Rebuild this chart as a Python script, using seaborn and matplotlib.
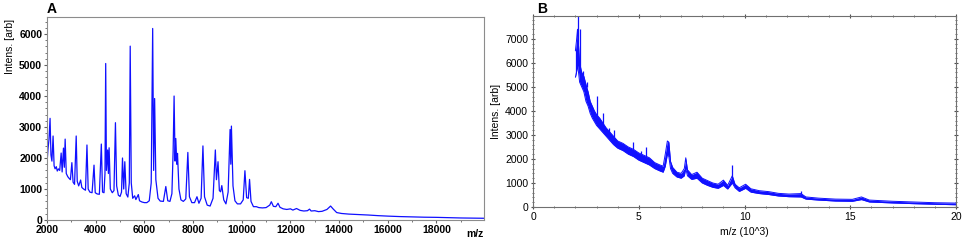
import numpy as np
import pandas as pd
import matplotlib
matplotlib.use("Agg")
from matplotlib import pyplot as plt
from matplotlib.ticker import MultipleLocator
import seaborn as sns

sns.set_style("white")
plt.rcParams['font.family'] = ['Liberation Sans', 'DejaVu Sans']
plt.rcParams['text.color'] = 'black'
plt.rcParams['axes.labelcolor'] = 'black'
plt.rcParams['xtick.color'] = 'black'
plt.rcParams['ytick.color'] = 'black'

# panel A spectrum, vertices (m/z, intensity)
mz_a = [2000, 2040, 2080, 2124, 2160, 2200, 2248, 2290, 2330, 2380, 2420, 2470, 2520, 2580,
        2620, 2675, 2710, 2744, 2790, 2850, 2900, 2960, 3020, 3070, 3130, 3198, 3240, 3300,
        3380, 3430, 3500, 3580, 3640, 3690, 3760, 3850, 3930, 3980, 4060, 4150, 4230, 4280,
        4340, 4380, 4410, 4440, 4490, 4520, 4550, 4600, 4680, 4750, 4810, 4860, 4930, 5000,
        5060, 5100, 5150, 5195, 5250, 5320, 5380, 5417, 5460, 5520, 5600, 5650, 5750, 5800,
        5900, 6000, 6100, 6200, 6280, 6340, 6380, 6420, 6470, 6560, 6650, 6780, 6880, 6960,
        7050, 7130, 7180, 7220, 7260, 7290, 7330, 7360, 7420, 7500, 7600, 7700, 7785, 7850,
        7950, 8060, 8160, 8240, 8330, 8405, 8470, 8580, 8700, 8820, 8915, 8960, 9025, 9080,
        9130, 9180, 9260, 9350, 9440, 9520, 9550, 9575, 9640, 9720, 9820, 9950, 10060, 10130,
        10200, 10270, 10320, 10380, 10480, 10600, 10700, 10850, 11000, 11150, 11215, 11300,
        11400, 11490, 11570, 11700, 11850, 12000, 12100, 12250, 12400, 12550, 12700, 12785,
        12850, 13000, 13150, 13300, 13500, 13650, 13750, 13900, 14100, 14400, 14800, 15200,
        15600, 16000, 16500, 17000, 17500, 18000, 18500, 19000, 19500, 20000]
int_a = [1850, 2300, 2600, 3280, 2100, 1900, 2710, 1750, 1650, 1720, 1580, 1650, 1600, 2160,
         1550, 2320, 1700, 2610, 1500, 1400, 1350, 1300, 1850, 1220, 1150, 2710, 1250, 1100,
         1290, 1050, 1000, 960, 2420, 1000, 900, 880, 1770, 880, 840, 830, 2450, 900,
         880, 1500, 5050, 1600, 2260, 1500, 2330, 1000, 880, 950, 3140, 1100, 800, 760,
         900, 2000, 1000, 1880, 850, 740, 1200, 5610, 1200, 700, 780, 660, 820, 620,
         580, 560, 560, 620, 1200, 6180, 1600, 3920, 1300, 700, 610, 600, 1080, 620,
         600, 850, 2200, 4000, 1900, 2630, 1800, 2150, 1000, 650, 600, 680, 2180, 750,
         560, 560, 750, 540, 700, 2390, 750, 480, 450, 700, 2260, 1300, 1880, 950,
         910, 1110, 650, 520, 900, 2920, 1800, 3030, 1100, 620, 520, 520, 650, 1590,
         720, 700, 1310, 600, 430, 430, 400, 390, 400, 480, 590, 440,
         430, 540, 410, 360, 340, 360, 320, 370, 310, 290, 300, 350,
         290, 300, 270, 280, 340, 450, 360, 240, 210, 190, 175, 160,
         140, 125, 110, 100, 90, 85, 75, 65, 60, 55]

# panel B spectrum, noise band (m/z in 10^3, lower / upper edge)
mz_b = [2.00, 2.05, 2.10, 2.15, 2.20, 2.30, 2.40, 2.50, 2.60, 2.70, 2.80, 2.90, 3.00, 3.15,
        3.30, 3.45, 3.60, 3.80, 4.00, 4.25, 4.50, 4.75, 5.00, 5.25, 5.50, 5.75, 6.00, 6.15,
        6.25, 6.35, 6.42, 6.50, 6.60, 6.80, 7.00, 7.15, 7.22, 7.30, 7.50, 7.75, 8.00, 8.25,
        8.50, 8.75, 9.00, 9.20, 9.42, 9.55, 9.75, 10.05, 10.30, 10.70, 11.15, 11.60, 12.10,
        12.67, 12.90, 13.50, 14.30, 15.10, 15.53, 15.90, 17.00, 18.00, 19.00, 20.00]
lo_b = [5400, 5600, 5900, 5600, 5200, 5000, 4800, 4400, 4200, 3900, 3700, 3550, 3400, 3250,
        3100, 2950, 2800, 2600, 2450, 2350, 2200, 2100, 1950, 1850, 1750, 1600, 1500, 1450,
        1700, 2200, 2100, 1600, 1400, 1250, 1200, 1300, 1600, 1300, 1150, 1200, 1000, 900,
        820, 780, 900, 750, 1000, 800, 650, 780, 620, 560, 520, 460, 430,
        420, 330, 290, 250, 240, 310, 210, 170, 140, 115, 95]
hi_b = [6500, 6900, 7400, 6700, 6000, 5600, 5450, 5100, 4800, 4400, 4200, 4000, 3850, 3700,
        3500, 3300, 3150, 2950, 2750, 2650, 2500, 2400, 2250, 2150, 2050, 1850, 1750, 1700,
        2200, 2750, 2700, 1900, 1650, 1450, 1400, 1600, 2050, 1550, 1350, 1450, 1200, 1100,
        1000, 950, 1120, 900, 1300, 950, 800, 950, 760, 680, 640, 570, 540,
        560, 420, 370, 330, 320, 420, 290, 240, 210, 180, 165]

# narrow spikes sticking out of the band in panel B
spk_mz = [2.12, 2.22, 2.35, 2.55, 3.02, 3.32, 3.60, 3.84, 4.73, 5.08, 5.36, 9.42, 12.67]
spk_base = [6500, 5800, 5500, 5000, 3800, 3450, 3100, 2900, 2400, 2200, 2100, 1200, 540]
spk_top = [7950, 7400, 5650, 5200, 4620, 3900, 3280, 3200, 2720, 2350, 2500, 1750, 650]

df_a = pd.DataFrame({"mz": mz_a, "intens": int_a})
df_b = pd.DataFrame({"mz": mz_b, "lo": lo_b, "hi": hi_b})

blue = "#1010ff"
fig = plt.figure(figsize=(9.64, 2.43), dpi=100)
ax1 = fig.add_axes([0.0488, 0.0947, 0.4532, 0.8353])
ax2 = fig.add_axes([0.553, 0.148, 0.4387, 0.786])

# --- A
sns.lineplot(data=df_a, x="mz", y="intens", ax=ax1, color=blue, lw=0.9,
             estimator=None, sort=False)
ax1.set_xlim(2000, 19950)
ax1.set_ylim(0, 6550)
ax1.set_xticks(range(2000, 20000, 2000))
ax1.xaxis.set_minor_locator(MultipleLocator(1000))
ax1.yaxis.set_minor_locator(MultipleLocator(200))
ax1.set_xlabel("")
ax1.set_ylabel("")
for s in ax1.spines.values():
    s.set_color("#8c8c8c")
    s.set_linewidth(0.8)
ax1.tick_params(axis="both", which="major", labelsize=7.5, length=2.5, width=0.8,
                color="#606060", pad=1, direction="out", bottom=True, left=True)
ax1.tick_params(axis="both", which="minor", length=1.5, width=0.6, color="#606060",
                bottom=True, left=True)
for lab in ax1.get_xticklabels() + ax1.get_yticklabels():
    lab.set_fontweight("bold")
fig.text(0.010, 0.81, "Intens. [arb]", rotation=90, fontsize=7.5, ha="center", va="center")
fig.text(0.502, 0.035, "m/z", fontsize=7.5, fontweight="bold", ha="right", va="center")
fig.text(0.054, 0.965, "A", fontsize=10, fontweight="bold", ha="center", va="center")

# --- B
ax2.fill_between(df_b["mz"], df_b["lo"], df_b["hi"], color=blue, lw=0)
sns.lineplot(data=df_b, x="mz", y="lo", ax=ax2, color=blue, lw=0.7, estimator=None, sort=False)
sns.lineplot(data=df_b, x="mz", y="hi", ax=ax2, color=blue, lw=0.7, estimator=None, sort=False)
ax2.vlines(spk_mz, spk_base, spk_top, color=blue, lw=0.9)
ax2.set_xlim(0, 20)
ax2.set_ylim(0, 7950)
ax2.set_xticks([0, 5, 10, 15, 20])
ax2.set_yticks(range(0, 8000, 1000))
ax2.xaxis.set_minor_locator(MultipleLocator(1))
ax2.yaxis.set_minor_locator(MultipleLocator(200))
ax2.set_xlabel("m/z (10^3)", fontsize=7.5, labelpad=4)
ax2.set_ylabel("Intens. [arb]", fontsize=7.5, labelpad=3)
for s in ax2.spines.values():
    s.set_color("#707070")
    s.set_linewidth(0.8)
ax2.tick_params(axis="both", which="major", labelsize=7.5, length=3, width=0.8,
                color="#505050", pad=2, direction="inout",
                bottom=True, left=True, top=True, right=True)
ax2.tick_params(axis="both", which="minor", length=2, width=0.6, color="#505050",
                direction="inout", bottom=True, left=True, top=True, right=True)
fig.text(0.562, 0.965, "B", fontsize=10, fontweight="bold", ha="center", va="center")

fig.savefig("out.png", dpi=100)
